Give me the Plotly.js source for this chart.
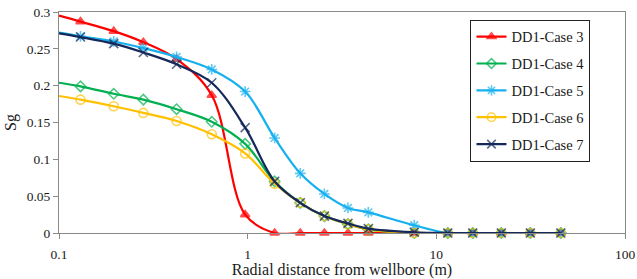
<!DOCTYPE html>
<html>
<head>
<meta charset="utf-8">
<script src="https://cdn.plot.ly/plotly-3.0.1.min.js"></script>
<style>
  html, body { margin: 0; padding: 0; background: #fff; }
  #chart { width: 637px; height: 279px; }
</style>
</head>
<body>
<div id="chart"></div>
<script>
// Radial distance from the wellbore (m), shared by every case
const radius = [0.1, 0.13, 0.195, 0.28, 0.42, 0.645, 0.97, 1.39, 1.9, 2.55, 3.4, 4.36, 7.64, 11.5, 15.6, 22.1, 31.5, 45.7];

// Gas saturation Sg for each case
const case3 = [0.295, 0.287, 0.274, 0.259, 0.236, 0.187, 0.025, 0, 0, 0, 0, 0, 0, 0, 0, 0, 0, 0];
const case4 = [0.204, 0.199, 0.189, 0.181, 0.168, 0.151, 0.121, 0.070, 0.041, 0.023, 0.012, 0.005, 0, 0, 0, 0, 0, 0];
const case5 = [0.272, 0.267, 0.260, 0.251, 0.239, 0.222, 0.192, 0.129, 0.081, 0.053, 0.034, 0.028, 0.0105, 0, 0, 0, 0, 0];
const case6 = [0.186, 0.181, 0.172, 0.163, 0.152, 0.134, 0.108, 0.067, 0.041, 0.023, 0.012, 0.005, 0, 0, 0, 0, 0, 0];
const case7 = [0.271, 0.266, 0.257, 0.245, 0.229, 0.204, 0.143, 0.070, 0.041, 0.023, 0.013, 0.006, 0.001, 0, 0, 0, 0, 0];

const seriesNames = ['DD1-Case 3', 'DD1-Case 4', 'DD1-Case 5', 'DD1-Case 6', 'DD1-Case 7'];

// Tick labels for the log-scaled distance axis
const xTickVals = [0.1, 1, 10, 100];
const xTickText = ['0.1', '1', '10', '100'];

// The wellbore-face point (first sample) carries no marker
function sizes(s) { return radius.map((_, i) => (i === 0 ? 0 : s)); }

const styles = [
  { color: '#ff0000', symbol: 'triangle-up', size: 8 },
  { color: '#00b050', symbol: 'diamond-open', size: 8 },
  { color: '#17b0ee', symbol: 'asterisk-open', size: 9 },
  { color: '#ffc000', symbol: 'circle-open', size: 9 },
  { color: '#14285a', symbol: 'x-thin-open', size: 9 }
];

const values = [case3, case4, case5, case6, case7];

const traces = values.map((y, k) => ({
  type: 'scatter',
  mode: 'lines+markers',
  name: seriesNames[k],
  legendgroup: 'g' + k,
  x: radius,
  y: y,
  cliponaxis: false,
  line: { color: styles[k].color, width: 2.2, shape: 'spline', smoothing: 1 },
  marker: {
    symbol: styles[k].symbol,
    size: sizes(styles[k].size),
    color: styles[k].color,
    line: { color: styles[k].color, width: 1.6 }
  }
}));

const serif = "'Liberation Serif', 'Times New Roman', serif";
const axisGrey = '#8a8a8a';
const ink = '#1a1a1a';

const layout = {
  width: 637,
  height: 279,
  margin: { l: 59, r: 12, t: 12, b: 46 },
  paper_bgcolor: '#ffffff',
  plot_bgcolor: '#ffffff',
  font: { family: serif, size: 13.5, color: ink },
  showlegend: true,
  legend: {
    x: 0.727, y: 0.965, xanchor: 'left', yanchor: 'top',
    bgcolor: '#ffffff', bordercolor: '#222222', borderwidth: 1,
    font: { family: serif, size: 14.5, color: ink },
    traceorder: 'grouped', tracegroupgap: 5
  },
  xaxis: {
    type: 'log',
    range: [-1, 2],
    tickvals: xTickVals,
    ticktext: xTickText,
    ticks: 'outside', ticklen: 5, tickcolor: axisGrey,
    ticklabelstandoff: 4,
    showline: true, linecolor: axisGrey, linewidth: 1, mirror: true,
    showgrid: false, zeroline: false,
    automargin: false,
    tickfont: { family: serif, size: 13.5, color: ink },
    title: { text: 'Radial distance from wellbore (m)', font: { family: serif, size: 16, color: ink }, standoff: 8 }
  },
  yaxis: {
    range: [0, 0.3],
    dtick: 0.05,
    ticks: 'outside', ticklen: 5, tickcolor: axisGrey,
    showline: true, linecolor: axisGrey, linewidth: 1, mirror: true,
    showgrid: false, zeroline: false,
    automargin: false,
    tickfont: { family: serif, size: 13.5, color: ink },
    title: { text: 'Sg', font: { family: serif, size: 16, color: ink }, standoff: 6 }
  }
};

Plotly.newPlot('chart', traces, layout, { displayModeBar: false, staticPlot: true });
</script>
</body>
</html>
